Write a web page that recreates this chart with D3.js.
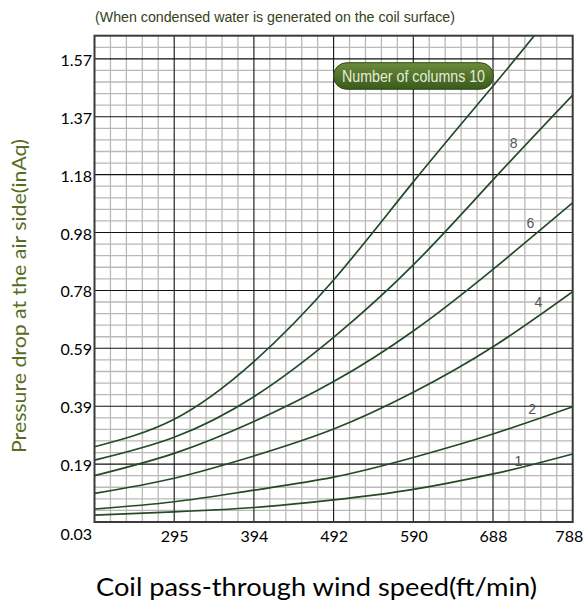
<!DOCTYPE html>
<html><head><meta charset="utf-8">
<script src="https://cdn.jsdelivr.net/npm/d3@7/dist/d3.min.js"></script>
<style>body{margin:0;background:#fff} svg{display:block}</style>
</head><body>
<svg id="chart" width="583" height="605"></svg>
<script>
// ---------- data ----------
const xTickValues = [197, 295, 394, 492, 590, 688, 788];          // ft/min (left edge unlabeled)
const xTickLabels = ["", "295", "394", "492", "590", "688", "788"];
const yTickValues = [0.03, 0.19, 0.39, 0.59, 0.78, 0.98, 1.18, 1.37, 1.57]; // inAq
const yTickLabels = ["0.03", "0.19", "0.39", "0.59", "0.78", "0.98", "1.18", "1.37", "1.57"];
const yTop = 1.65;

const columns = ["1", "2", "4", "6", "8", "10"];
const col1  = [[197,0.049],[295,0.058],[394,0.070],[492,0.091],[590,0.120],[688,0.163],[738,0.189],[788,0.225]];
const col2  = [[197,0.066],[295,0.086],[394,0.118],[492,0.154],[590,0.213],[688,0.294],[788,0.388]];
const col4  = [[197,0.109],[295,0.151],[394,0.218],[492,0.311],[590,0.438],[688,0.595],[788,0.776]];
const col6  = [[197,0.158],[295,0.227],[394,0.337],[492,0.475],[590,0.647],[688,0.853],[788,1.083]];
const col8  = [[197,0.204],[295,0.283],[394,0.423],[492,0.626],[590,0.868],[688,1.162],[788,1.445]];
const col10 = [[197,0.250],[295,0.345],[394,0.544],[492,0.816],[590,1.155],[688,1.476],[750,1.685]];
const seriesData = [col1, col2, col4, col6, col8, col10];
// curve label positions (data units) for columns 1,2,4,6,8
const labelNames = ["1", "2", "4", "6", "8"];
const labelPos = [[720,0.200],[737,0.380],[745,0.742],[735,1.012],[714,1.283]];

const titleText = "(When condensed water is generated on the coil surface)";
const legendText = "Number of columns 10";
const xTitle = "Coil pass-through wind speed(ft/min)";
const yTitle = "Pressure drop at the air side(inAq)";

// ---------- layout ----------
const L = 94.5, R = 572.7, T = 35.7, B = 522;
const xStep = (R - L) / (xTickValues.length - 1);
const yMajor = (B - T) / 8.4;

const x = d3.scaleLinear().domain(xTickValues).range(xTickValues.map((d, i) => L + i * xStep));
const y = d3.scaleLinear().domain([...yTickValues, yTop])
  .range([...yTickValues.map((d, i) => B - i * yMajor), T]);

const svg = d3.select("#chart");
svg.append("rect").attr("width", 583).attr("height", 605).attr("fill", "#fff");

// minor grid values
const xMinor = [];
for (let i = 0; i < xTickValues.length - 1; i++)
  for (let j = 1; j < 5; j++) xMinor.push(xTickValues[i] + (xTickValues[i + 1] - xTickValues[i]) * j / 5);
const yMinor = [];
for (let i = 0; i < yTickValues.length - 1; i++)
  for (let j = 1; j < 5; j++) yMinor.push(yTickValues[i] + (yTickValues[i + 1] - yTickValues[i]) * j / 5);
yMinor.push(yTickValues[8] + (yTop - yTickValues[8]) / 2);

const grid = svg.append("g");
grid.selectAll(".vm").data(xMinor).join("line")
  .attr("x1", d => x(d)).attr("x2", d => x(d)).attr("y1", T).attr("y2", B)
  .attr("stroke", "#b9b9b9").attr("stroke-width", 1.3);
grid.selectAll(".hm").data(yMinor).join("line")
  .attr("y1", d => y(d)).attr("y2", d => y(d)).attr("x1", L).attr("x2", R)
  .attr("stroke", "#b9b9b9").attr("stroke-width", 1.3);
grid.selectAll(".vM").data(xTickValues.slice(1, -1)).join("line")
  .attr("x1", d => x(d)).attr("x2", d => x(d)).attr("y1", T).attr("y2", B)
  .attr("stroke", "#111").attr("stroke-width", 1.1);
grid.selectAll(".hM").data(yTickValues.slice(1)).join("line")
  .attr("y1", d => y(d)).attr("y2", d => y(d)).attr("x1", L).attr("x2", R)
  .attr("stroke", "#111").attr("stroke-width", 1.1);

// curves
svg.append("clipPath").attr("id", "clip").append("rect")
  .attr("x", L).attr("y", T).attr("width", R - L).attr("height", B - T);
const line = d3.line().x(d => x(d[0])).y(d => y(d[1])).curve(d3.curveNatural);
svg.append("g").attr("clip-path", "url(#clip)")
  .selectAll("path").data(seriesData).join("path")
  .attr("d", line).attr("fill", "none").attr("stroke", "#244a28").attr("stroke-width", 1.7);

// curve labels
svg.append("g").selectAll("text").data(labelNames).join("text")
  .attr("x", (d, i) => x(labelPos[i][0])).attr("y", (d, i) => y(labelPos[i][1]))
  .attr("text-anchor", "middle").attr("dominant-baseline", "central")
  .attr("font-family", "'Liberation Sans', Arial, sans-serif").attr("font-size", 14)
  .attr("fill", "#555").text(d => d);

// legend pill
const defs = svg.append("defs");
const grad = defs.append("linearGradient").attr("id", "pill").attr("x1", 0).attr("y1", 0).attr("x2", 0).attr("y2", 1);
grad.append("stop").attr("offset", "0%").attr("stop-color", "#6c8c3c");
grad.append("stop").attr("offset", "55%").attr("stop-color", "#4f7029");
grad.append("stop").attr("offset", "100%").attr("stop-color", "#3a5a1c");
const lg = svg.append("g");
lg.append("rect").attr("x", 333.5).attr("y", 62.7).attr("width", 160).attr("height", 26.6)
  .attr("rx", 13.3).attr("fill", "url(#pill)").attr("stroke", "#2f4a17").attr("stroke-width", 1);
lg.append("text").attr("x", 413.5).attr("y", 76.3).attr("text-anchor", "middle")
  .attr("dominant-baseline", "central")
  .attr("font-family", "'Liberation Sans Narrow', 'Arial Narrow', sans-serif").attr("font-size", 16)
  .attr("textLength", 143).attr("lengthAdjust", "spacingAndGlyphs")
  .attr("fill", "#e6ecdc").text(legendText);

// axes (labels)
const xAxis = d3.axisBottom(x).tickValues(xTickValues.slice(1)).tickSize(0).tickPadding(0)
  .tickFormat(d => xTickLabels[xTickValues.indexOf(d)]);
const gx = svg.append("g").attr("transform", `translate(0,${B})`).call(xAxis);
gx.select(".domain").remove();
gx.selectAll("text").attr("font-family", "Lato, 'Open Sans', sans-serif").attr("font-size", 16)
  .attr("fill", "#000").attr("dy", null).attr("y", 13).attr("dominant-baseline", "central");
gx.selectAll(".tick").filter(d => d === 788).select("text").attr("text-anchor", "end").attr("dx", 10);

const yAxis = d3.axisLeft(y).tickValues(yTickValues).tickSize(0).tickPadding(0)
  .tickFormat(d => yTickLabels[yTickValues.indexOf(d)]);
const gy = svg.append("g").attr("transform", `translate(${L - 2.5},0)`).call(yAxis);
gy.select(".domain").remove();
gy.selectAll("text").attr("font-family", "Lato, 'Open Sans', sans-serif").attr("font-size", 16)
  .attr("fill", "#000").attr("dy", null).attr("dominant-baseline", "central");
gy.selectAll(".tick").filter(d => d === 0.03).select("text").attr("y", 11);

// frame
svg.append("rect").attr("x", L).attr("y", T).attr("width", R - L).attr("height", B - T)
  .attr("fill", "none").attr("stroke", "#3a3a3a").attr("stroke-width", 2);

// titles
svg.append("text").attr("x", 95).attr("y", 16).attr("dominant-baseline", "central")
  .attr("font-family", "'Liberation Sans Narrow', 'Arial Narrow', sans-serif").attr("font-size", 15)
  .attr("textLength", 360).attr("lengthAdjust", "spacingAndGlyphs")
  .attr("fill", "#34421a").text(titleText);

svg.append("text").attr("x", 96).attr("y", 596)
  .attr("font-family", "Lato, 'Open Sans', sans-serif").attr("font-size", 25)
  .attr("textLength", 441).attr("lengthAdjust", "spacingAndGlyphs")
  .attr("fill", "#000").text(xTitle);

svg.append("text").attr("transform", "translate(18,296) rotate(-90)").attr("text-anchor", "middle")
  .attr("dominant-baseline", "central")
  .attr("font-family", "Lato, 'Open Sans', sans-serif").attr("font-size", 19.5)
  .attr("textLength", 314).attr("lengthAdjust", "spacingAndGlyphs")
  .attr("fill", "#5a6b22").text(yTitle);
</script>
</body></html>
